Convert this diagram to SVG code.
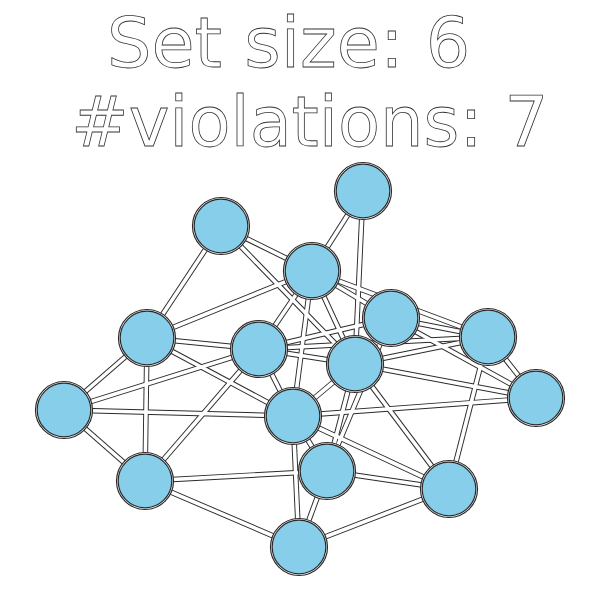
<svg xmlns="http://www.w3.org/2000/svg" xmlns:xlink="http://www.w3.org/1999/xlink" width="600" height="600" viewBox="0 0 600 600">
<style>
.title{font-family:"DejaVu Sans","Liberation Sans",sans-serif;fill:#fff;stroke:#333;stroke-width:0.8}
.eo{fill:none;stroke:#2a2a2a;stroke-width:5.5}
.ei{fill:none;stroke:#fff;stroke-width:3.6}
.ring{fill:#fff;stroke:#2a2a2a;stroke-width:1.2}
.node{fill:#87CEEB;stroke:#2a2a2a;stroke-width:1.2}
</style>
<defs>
<g id="edge-geom">
<path d="M363,191L312,271"/>
<path d="M363,191L355,364"/>
<path d="M221,226L312,271"/>
<path d="M221,226L147,338"/>
<path d="M221,226L355,364"/>
<path d="M312,271L147,338"/>
<path d="M312,271L259,349"/>
<path d="M312,271L355,364"/>
<path d="M312,271L293,416"/>
<path d="M312,271L391,318"/>
<path d="M312,271L488,337"/>
<path d="M147,338L259,349"/>
<path d="M147,338L64,410"/>
<path d="M147,338L293,416"/>
<path d="M147,338L145,481"/>
<path d="M259,349L64,410"/>
<path d="M64,410L293,416"/>
<path d="M64,410L145,481"/>
<path d="M259,349L145,481"/>
<path d="M145,481L327,471"/>
<path d="M145,481L299,547"/>
<path d="M299,547L449,489"/>
<path d="M299,547L293,416"/>
<path d="M299,547L327,471"/>
<path d="M327,471L449,489"/>
<path d="M293,416L449,489"/>
<path d="M355,364L449,489"/>
<path d="M488,337L449,489"/>
<path d="M488,337L536,398"/>
<path d="M391,318L488,337"/>
<path d="M391,318L536,398"/>
<path d="M355,364L536,398"/>
<path d="M355,364L488,337"/>
<path d="M259,349L391,318"/>
<path d="M259,349L488,337"/>
<path d="M259,349L355,364"/>
<path d="M259,349L293,416"/>
<path d="M293,416L327,471"/>
<path d="M293,416L536,398"/>
<path d="M355,364L327,471"/>
<path d="M391,318L327,471"/>
<path d="M355,364L293,416"/>
</g>
</defs>
<g id="titles">
<text class="title" x="107" y="67" font-size="70">Set size: 6</text>
<text class="title" x="71" y="146" font-size="68.8">#violations: 7</text>
</g>
<g id="connectors">
<use xlink:href="#edge-geom" class="eo"/>
<use xlink:href="#edge-geom" class="ei"/>
</g>
<g id="nA"><circle class="ring" cx="363" cy="191" r="28.5"/><circle class="node" cx="363" cy="191" r="26.8"/></g>
<g id="nB"><circle class="ring" cx="221" cy="226" r="28.5"/><circle class="node" cx="221" cy="226" r="26.8"/></g>
<g id="nC"><circle class="ring" cx="312" cy="271" r="28.5"/><circle class="node" cx="312" cy="271" r="26.8"/></g>
<g id="nD"><circle class="ring" cx="147" cy="338" r="28.5"/><circle class="node" cx="147" cy="338" r="26.8"/></g>
<g id="nE"><circle class="ring" cx="391" cy="318" r="28.5"/><circle class="node" cx="391" cy="318" r="26.8"/></g>
<g id="nF"><circle class="ring" cx="488" cy="337" r="28.5"/><circle class="node" cx="488" cy="337" r="26.8"/></g>
<g id="nG"><circle class="ring" cx="259" cy="349" r="28.5"/><circle class="node" cx="259" cy="349" r="26.8"/></g>
<g id="nH"><circle class="ring" cx="355" cy="364" r="28.5"/><circle class="node" cx="355" cy="364" r="26.8"/></g>
<g id="nI"><circle class="ring" cx="64" cy="410" r="28.5"/><circle class="node" cx="64" cy="410" r="26.8"/></g>
<g id="nJ"><circle class="ring" cx="536" cy="398" r="28.5"/><circle class="node" cx="536" cy="398" r="26.8"/></g>
<g id="nK"><circle class="ring" cx="293" cy="416" r="28.5"/><circle class="node" cx="293" cy="416" r="26.8"/></g>
<g id="nL"><circle class="ring" cx="145" cy="481" r="28.5"/><circle class="node" cx="145" cy="481" r="26.8"/></g>
<g id="nM"><circle class="ring" cx="327" cy="471" r="28.5"/><circle class="node" cx="327" cy="471" r="26.8"/></g>
<g id="nN"><circle class="ring" cx="449" cy="489" r="28.5"/><circle class="node" cx="449" cy="489" r="26.8"/></g>
<g id="nO"><circle class="ring" cx="299" cy="547" r="28.5"/><circle class="node" cx="299" cy="547" r="26.8"/></g>
</svg>
